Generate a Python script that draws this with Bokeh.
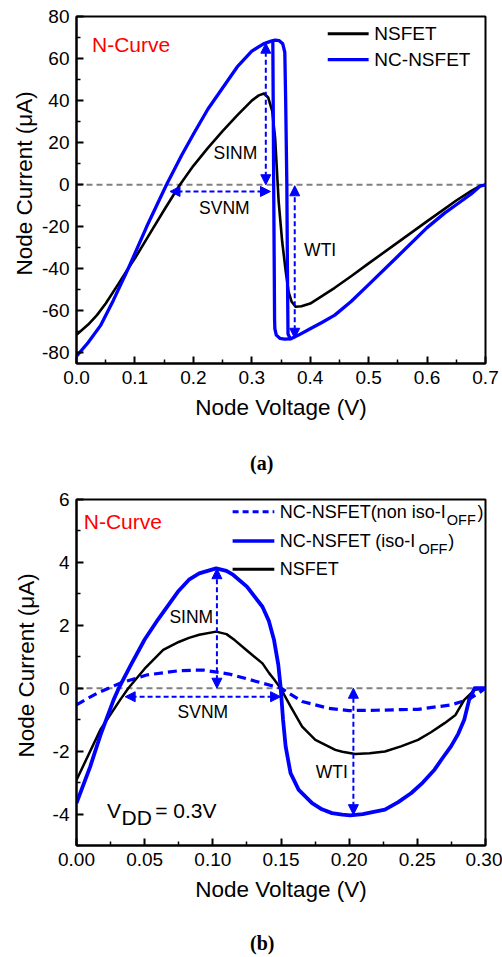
from bokeh.plotting import figure
from bokeh.layouts import column
from bokeh.models import (Range1d, FixedTicker, NumeralTickFormatter, Span,
                          Arrow, NormalHead, Label, Div, Title)
from bokeh.embed import file_html
from bokeh.resources import INLINE

BLUE = "#0000FF"
FONT = "Liberation Sans"

# ---------------- Panel (a) data ----------------
a_ns_v = [0.0, 0.02, 0.035, 0.05, 0.072, 0.089, 0.1, 0.125, 0.15, 0.177, 0.2, 0.225, 0.25,
          0.275, 0.3, 0.312, 0.321, 0.328, 0.335, 0.34, 0.346, 0.352, 0.358, 0.363, 0.368,
          0.375, 0.385, 0.4, 0.42, 0.442, 0.47, 0.5, 0.55, 0.601, 0.63, 0.65, 0.675, 0.69, 0.7]
a_ns_i = [-71.4, -66.5, -62, -56.5, -47, -39.6, -35, -23.5, -12, 0, 9, 17.5, 25.5,
          33, 40, 42.5, 43.4, 41.5, 35, 22, -8, -27, -41, -51, -55.5,
          -58, -57.8, -56.5, -53, -49, -43.5, -37.4, -27.4, -17.2, -11.5, -7.5, -3, -0.6, 0]

a_nc_v = [0.0, 0.02, 0.041, 0.063, 0.089, 0.12, 0.154, 0.18, 0.2, 0.225, 0.25, 0.275, 0.3,
          0.32, 0.333, 0.34, 0.347, 0.353, 0.3565, 0.358, 0.36, 0.361, 0.362, 0.366, 0.38,
          0.4, 0.42, 0.442, 0.47, 0.5, 0.55, 0.6, 0.63, 0.65, 0.675, 0.69, 0.7]
a_nc_i = [-81.5, -75, -67, -55, -39.6, -20, 0, 14, 24, 36, 46, 56, 63.5,
          67, 68.3, 68.8, 68.5, 67, 63, 40, 0, -40, -71, -73.3, -71.5,
          -68.5, -65.5, -62, -55.5, -47.5, -34, -20.4, -13.5, -9.5, -4.5, -0.8, 0]
a_nc_ret_v = [0.336, 0.3375, 0.339, 0.3395, 0.342, 0.348, 0.356, 0.366]
a_nc_ret_i = [68.3, 0, -64, -68.5, -71.5, -73, -73.4, -73.3]

a_xticks = [0.0, 0.1, 0.2, 0.3, 0.4, 0.5, 0.6, 0.7]
a_xminor = [0.05, 0.15, 0.25, 0.35, 0.45, 0.55, 0.65]
a_yticks = [-80, -60, -40, -20, 0, 20, 40, 60, 80]
a_yminor = [-70, -50, -30, -10, 10, 30, 50, 70]

# ---------------- Panel (b) data ----------------
b_ns_v = [0.0, 0.0175, 0.032, 0.038, 0.05, 0.0636, 0.075, 0.0825, 0.09, 0.1024, 0.11, 0.116,
          0.125, 0.1364, 0.1413, 0.145, 0.1497, 0.157, 0.1655, 0.1752, 0.1898, 0.195, 0.2043,
          0.215, 0.2262, 0.238, 0.2505, 0.26, 0.27, 0.278, 0.2844, 0.292, 0.3]
b_ns_i = [-2.92, -1.32, -0.37, 0, 0.62, 1.22, 1.47, 1.6, 1.7, 1.8, 1.72, 1.53,
          1.2, 0.79, 0.48, 0.28, 0, -0.58, -1.22, -1.64, -1.96, -2.02, -2.09,
          -2.07, -2.01, -1.85, -1.64, -1.4, -1.11, -0.85, -0.37, -0.05, 0]

b_iso_v = [0.0, 0.01, 0.0175, 0.0272, 0.031, 0.04, 0.05, 0.06, 0.075, 0.0825, 0.09, 0.1024,
           0.11, 0.115, 0.125, 0.1364, 0.141, 0.1449, 0.148, 0.1497, 0.1515, 0.1534, 0.157,
           0.163, 0.1728, 0.18, 0.1874, 0.195, 0.2007, 0.21, 0.218, 0.2262, 0.236, 0.2456,
           0.254, 0.2626, 0.268, 0.2747, 0.28, 0.2844, 0.288, 0.292, 0.3]
b_iso_i = [-3.65, -2.5, -1.5, -0.37, 0, 0.75, 1.55, 2.2, 3.1, 3.45, 3.65, 3.81,
           3.73, 3.6, 3.23, 2.59, 2.15, 1.53, 0.75, 0.05, -1.0, -1.85, -2.7,
           -3.23, -3.65, -3.85, -3.97, -4.02, -4.04, -4.0, -3.93, -3.86, -3.62, -3.33,
           -3.0, -2.59, -2.25, -1.85, -1.45, -1.0, -0.37, 0, 0]

b_non_v = [0.0, 0.015, 0.0235, 0.032, 0.0514, 0.0757, 0.0927, 0.112, 0.125, 0.1364, 0.15,
           0.1655, 0.185, 0.2, 0.22, 0.238, 0.2505, 0.2747, 0.287, 0.295, 0.3]
b_non_i = [-0.53, -0.16, 0, 0.16, 0.42, 0.56, 0.58, 0.45, 0.3, 0.16, 0,
           -0.42, -0.64, -0.71, -0.7, -0.68, -0.67, -0.53, -0.37, -0.15, 0]

b_xticks = [0.0, 0.05, 0.1, 0.15, 0.2, 0.25, 0.3]
b_xminor = [0.025, 0.075, 0.125, 0.175, 0.225, 0.275]
b_yticks = [-4, -2, 0, 2, 4, 6]
b_yminor = [-5, -3, -1, 1, 3, 5]

Y_LABEL = "Node Current (μA)"
X_LABEL = "Node Voltage (V)"


def style(p, xt, xm, yt, ym, xfmt, ylab_offset, ylab_standoff):
    p.grid.visible = False
    p.outline_line_color = "black"
    p.outline_line_width = 2
    p.background_fill_color = "white"
    p.border_fill_color = "white"
    p.xaxis.ticker = FixedTicker(ticks=xt, minor_ticks=xm)
    p.yaxis.ticker = FixedTicker(ticks=yt, minor_ticks=ym)
    p.xaxis.formatter = NumeralTickFormatter(format=xfmt)
    p.yaxis.formatter = NumeralTickFormatter(format="0")
    for ax in (p.xaxis, p.yaxis):
        ax.axis_line_width = 2
        ax.axis_line_color = "black"
        ax.major_tick_in = 7
        ax.major_tick_out = 0
        ax.minor_tick_in = 4
        ax.minor_tick_out = 0
        ax.major_tick_line_width = 2
        ax.minor_tick_line_width = 1.5
        ax.major_tick_line_color = "black"
        ax.minor_tick_line_color = "black"
        ax.major_label_text_font = FONT
        ax.major_label_text_font_size = "19px"
        ax.major_label_text_color = "black"
        ax.major_label_standoff = 7
        ax.axis_label_text_font = FONT
        ax.axis_label_text_font_size = "22.5px"
        ax.axis_label_text_font_style = "normal"
        ax.axis_label_text_color = "black"
    p.xaxis.axis_label = X_LABEL
    p.xaxis.axis_label_standoff = 8
    p.add_layout(Title(text=Y_LABEL, align="left", offset=ylab_offset, standoff=ylab_standoff,
                       text_font=FONT, text_font_size="22.5px", text_font_style="normal",
                       text_color="black"), "left")
    p.add_layout(Span(location=0, dimension="width", line_color="#808080",
                      line_dash="6 4", line_width=2, level="underlay"))


def darrow(p, x0, y0, x1, y1):
    p.add_layout(Arrow(start=NormalHead(size=10, fill_color=BLUE, line_color=BLUE),
                       end=NormalHead(size=10, fill_color=BLUE, line_color=BLUE),
                       x_start=x0, y_start=y0, x_end=x1, y_end=y1,
                       line_color=BLUE, line_dash="5 3", line_width=2))


def seg(p, x0, x1, y, color, width, dash="solid"):
    p.add_layout(Arrow(start=None, end=None, x_start=x0, y_start=y, x_end=x1, y_end=y,
                       line_color=color, line_width=width, line_dash=dash))


def txt(p, x, y, s, size, color="black", align="left"):
    p.add_layout(Label(x=x, y=y, text=s, text_font=FONT, text_font_size=size,
                       text_color=color, text_align=align, text_baseline="middle"))


def caption(s, height, pad_top):
    html = ('<div style="padding-left:250px;padding-top:%dpx;font-family:\'Liberation Serif\';'
            'font-weight:bold;font-size:20px;line-height:22px;color:black;">%s</div>' % (pad_top, s))
    return Div(text=html, width=502, height=height, margin=0,
               styles={"font-size": "20px", "font-family": "Liberation Serif"})


# ---------------- Figure (a) ----------------
pa = figure(width=502, height=440, x_range=Range1d(0, 0.7), y_range=Range1d(-85, 80),
            output_backend="svg", toolbar_location=None,
            min_border_left=73, min_border_right=17, min_border_top=16, min_border_bottom=77)
style(pa, a_xticks, a_xminor, a_yticks, a_yminor, "0.0", 88, 6)
pa.line(a_ns_v, a_ns_i, line_color="black", line_width=2.6, line_join="round")
pa.line(a_nc_v, a_nc_i, line_color=BLUE, line_width=3.3, line_join="round")
pa.line(a_nc_ret_v, a_nc_ret_i, line_color=BLUE, line_width=3.3, line_join="round")

darrow(pa, 0.324, 0, 0.324, 67.3)
darrow(pa, 0.332, -3.2, 0.16, -3.2)
darrow(pa, 0.3735, -73, 0.3735, -0.5)
txt(pa, 0.272, 15.3, "SINM", "17.5px", align="center")
txt(pa, 0.253, -10.9, "SVNM", "17.5px", align="center")
txt(pa, 0.417, -30.8, "WTI", "17.5px", align="center")
txt(pa, 0.0265, 66.5, "N-Curve", "21px", color="#FF0000")
seg(pa, 0.430, 0.500, 71.8, "black", 3)
seg(pa, 0.430, 0.500, 59.5, BLUE, 3.3)
txt(pa, 0.5098, 71.8, "NSFET", "19px")
txt(pa, 0.5098, 59.5, "NC-NSFET", "19px")

# ---------------- Figure (b) ----------------
pb = figure(width=502, height=440, x_range=Range1d(0, 0.3), y_range=Range1d(-5, 6),
            output_backend="svg", toolbar_location=None,
            min_border_left=73, min_border_right=17, min_border_top=21, min_border_bottom=73)
style(pb, b_xticks, b_xminor, b_yticks, b_yminor, "0.00", 88, 22)
pb.line(b_non_v, b_non_i, line_color=BLUE, line_width=3.2, line_dash="9 5")
pb.line(b_ns_v, b_ns_i, line_color="black", line_width=2.5, line_join="round")
pb.line(b_iso_v, b_iso_i, line_color=BLUE, line_width=3.8, line_join="round")

darrow(pb, 0.103, 0, 0.103, 3.8)
darrow(pb, 0.1497, -0.27, 0.0357, -0.27)
darrow(pb, 0.2031, -4.02, 0.2031, 0)
txt(pb, 0.0842, 2.25, "SINM", "17.5px", align="center")
txt(pb, 0.0927, -0.74, "SVNM", "17.5px", align="center")
txt(pb, 0.1873, -2.65, "WTI", "17.5px", align="center")
txt(pb, 0.0053, 5.29, "N-Curve", "21px", color="#FF0000")
txt(pb, 0.0223, -3.90, "V", "21px")
txt(pb, 0.0330, -4.11, "DD", "21px")
txt(pb, 0.0577, -3.90, "= 0.3V", "21px")

seg(pb, 0.1145, 0.1451, 5.61, BLUE, 3.2, "6 4")
seg(pb, 0.1145, 0.1451, 4.68, BLUE, 3.5)
seg(pb, 0.1145, 0.1451, 3.78, "black", 3)
txt(pb, 0.149, 5.61, "NC-NSFET(non iso-I", "18px")
txt(pb, 0.2716, 5.36, "OFF", "14.5px")
txt(pb, 0.2941, 5.61, ")", "18px")
txt(pb, 0.149, 4.68, "NC-NSFET (iso-I", "18px")
txt(pb, 0.2508, 4.43, "OFF", "14.5px")
txt(pb, 0.2726, 4.68, ")", "18px")
txt(pb, 0.149, 3.78, "NSFET", "18px")

layout = column(pa, caption("(a)", 38, 12), pb, caption("(b)", 39, 14), spacing=0)
open("out.html", "w").write(file_html(layout, INLINE))
